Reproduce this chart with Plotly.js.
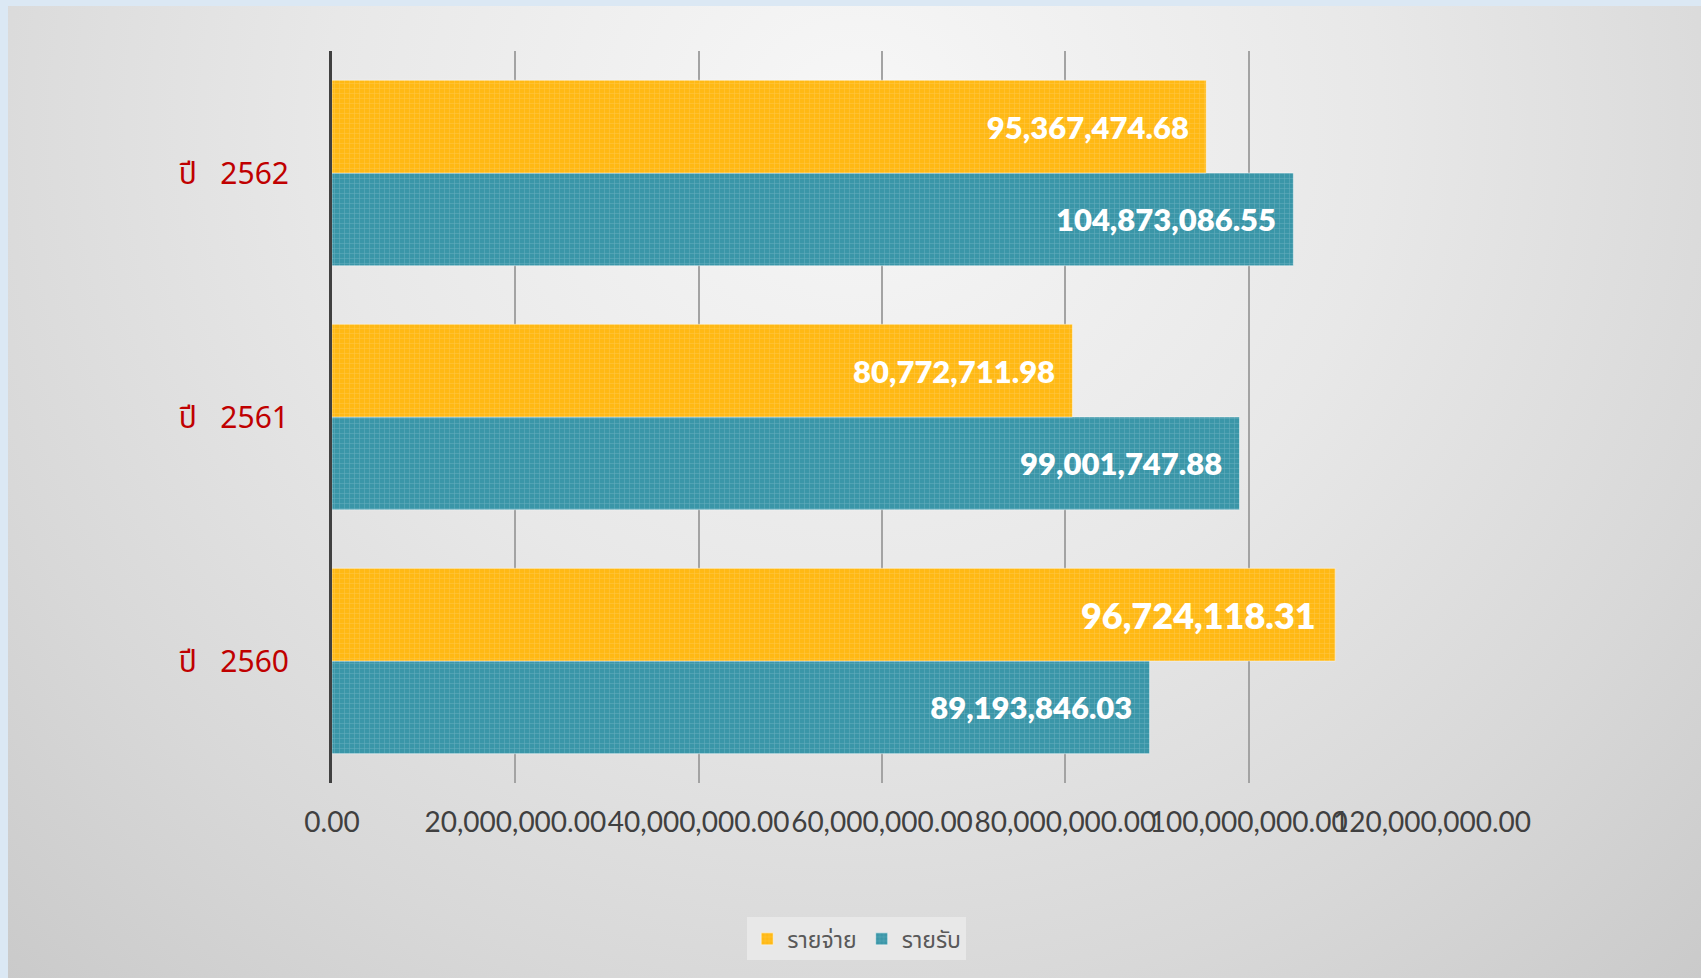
<!DOCTYPE html>
<html>
<head>
<meta charset="utf-8">
<script src="https://cdn.plot.ly/plotly-3.0.1.min.js"></script>
<style>
  html, body { margin:0; padding:0; width:1701px; height:978px; overflow:hidden; background:#dbe8f4; }
  #bg { position:absolute; left:8px; top:6px; width:1693px; height:972px;
        background: radial-gradient(ellipse 78% 130% at 50% 12%, #f7f7f7 0%, #e8e8e8 40%, #d8d8d8 70%, #c6c6c6 100%); }
  #chart { position:absolute; left:0; top:0; width:1701px; height:978px; }
</style>
</head>
<body>
<div id="bg"></div>
<div id="chart"></div>
<script>
// Categories (bottom to top)
const years = ['ปี   2560', 'ปี   2561', 'ปี   2562'];
// รายจ่าย (expense) — bar lengths as drawn, and their printed labels
const expense = [109450000, 80772711.98, 95367474.68];
const expenseLabels = ['96,724,118.31', '80,772,711.98', '95,367,474.68'];
// รายรับ (income)
const income = [89193846.03, 99001747.88, 104873086.55];
const incomeLabels = ['89,193,846.03', '99,001,747.88', '104,873,086.55'];
// x tick values and labels
const tickVals = [0, 20000000, 40000000, 60000000, 80000000, 100000000, 120000000];
const tickText = ['0.00', '20,000,000.00', '40,000,000.00', '60,000,000.00', '80,000,000.00', '100,000,000.00', '120,000,000.00'];

const pad = s => s + '\u00a0\u00a0';

const traces = [
  {
    type: 'bar', orientation: 'h', name: 'รายรับ',
    y: years, x: income, text: incomeLabels.map(pad),
    textposition: 'inside', insidetextanchor: 'end', constraintext: 'none',
    textfont: { family: 'Lato, sans-serif', size: 31, color: '#ffffff', weight: 800 },
    marker: { color: '#3a96a8', line: { color: 'rgba(255,255,255,0.45)', width: 1 },
              pattern: { shape: '+', size: 5, solidity: 0.2, fillmode: 'replace',
                         bgcolor: '#3a96a8', fgcolor: '#7fbccb', fgopacity: 0.6 } },
    hoverinfo: 'x+y'
  },
  {
    type: 'bar', orientation: 'h', name: 'รายจ่าย',
    y: years, x: expense, text: expenseLabels.map(pad),
    textposition: 'inside', insidetextanchor: 'end', constraintext: 'none',
    textfont: { family: 'Lato, sans-serif', size: [36, 31, 31], color: '#ffffff', weight: 800 },
    marker: { color: '#ffb914', line: { color: 'rgba(255,255,255,0.45)', width: 1 },
              pattern: { shape: '+', size: 5, solidity: 0.2, fillmode: 'replace',
                         bgcolor: '#ffb914', fgcolor: '#ffd266', fgopacity: 0.6 } },
    hoverinfo: 'x+y'
  }
];

const layout = {
  width: 1701, height: 978,
  margin: { l: 332, r: 269, t: 51, b: 195 },
  paper_bgcolor: 'rgba(0,0,0,0)',
  plot_bgcolor: 'rgba(0,0,0,0)',
  barmode: 'group', bargap: 0.24, bargroupgap: 0,
  xaxis: {
    range: [0, 120000000], tickvals: tickVals, ticktext: tickText,
    tickangle: 0,
    showgrid: true, gridcolor: '#a3a3a3', gridwidth: 2,
    zeroline: false, showline: false,
    ticks: 'outside', ticklen: 14, tickcolor: 'rgba(0,0,0,0)',
    tickfont: { family: 'Lato, sans-serif', size: 28, color: '#404040' },
    fixedrange: true
  },
  yaxis: {
    type: 'category',
    showline: true, linecolor: '#404040', linewidth: 3,
    showgrid: false, zeroline: false,
    ticks: 'outside', ticklen: 34, tickcolor: 'rgba(0,0,0,0)',
    tickfont: { family: 'Tahoma, "Noto Sans Thai", "Noto Sans", "DejaVu Sans", sans-serif', size: 30, color: '#c00000' },
    fixedrange: true
  },
  showlegend: true,
  legend: {
    orientation: 'h', x: 0.477, xanchor: 'center', y: -0.213, yanchor: 'middle',
    traceorder: 'reversed',
    bgcolor: 'rgba(234,234,234,0.85)',
    font: { family: 'Tahoma, "Noto Sans Thai", "Noto Sans", sans-serif', size: 23, color: '#595959' },
    itemwidth: 30
  }
};

Plotly.newPlot('chart', traces, layout, { displayModeBar: false, staticPlot: true });
</script>
</body>
</html>
